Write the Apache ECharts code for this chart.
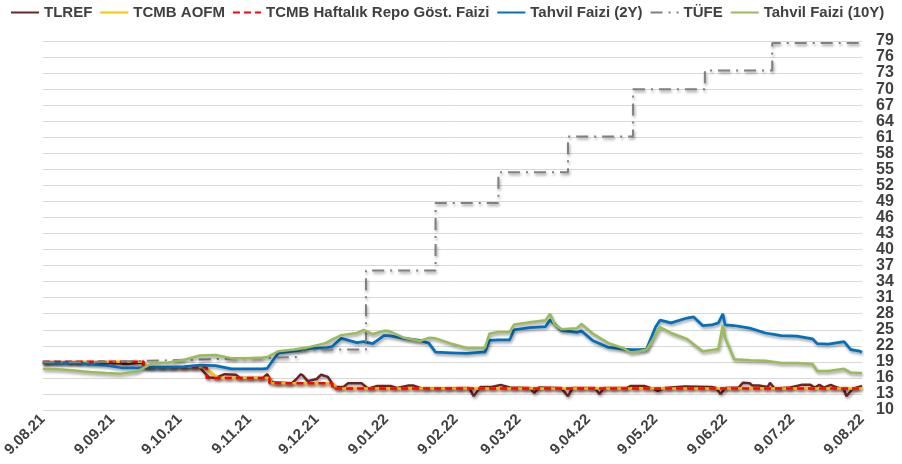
<!DOCTYPE html>
<html><head><meta charset="utf-8">
<script src="https://cdn.jsdelivr.net/npm/echarts@6/dist/echarts.min.js"></script>
<style>html,body{margin:0;padding:0;background:#fff}#c{width:902px;height:464px}</style>
</head><body><div id="c"></div>
<script>
// ---- data ----
const yieldDates = ['2021-08-09','2021-08-16','2021-08-23','2021-08-30','2021-09-06','2021-09-13','2021-09-20','2021-09-27','2021-10-04','2021-10-11','2021-10-18','2021-10-25','2021-11-01','2021-11-08','2021-11-15','2021-11-17','2021-11-22','2021-11-29','2021-12-06','2021-12-13','2021-12-16','2021-12-20','2021-12-27','2021-12-30','2022-01-03','2022-01-08','2022-01-10','2022-01-17','2022-01-24','2022-01-28','2022-01-31','2022-02-07','2022-02-14','2022-02-21','2022-02-22','2022-02-24','2022-02-28','2022-03-05','2022-03-07','2022-03-14','2022-03-21','2022-03-23','2022-03-25','2022-03-28','2022-04-04','2022-04-06','2022-04-11','2022-04-18','2022-04-25','2022-04-28','2022-05-02','2022-05-05','2022-05-09','2022-05-11','2022-05-16','2022-05-23','2022-05-26','2022-05-30','2022-06-03','2022-06-06','2022-06-08','2022-06-09','2022-06-13','2022-06-20','2022-06-27','2022-07-04','2022-07-11','2022-07-18','2022-07-20','2022-07-25','2022-08-01','2022-08-04','2022-08-08','2022-08-09'];
const tahvil2Y = [18.8,18.8,18.8,18.6,18.4,17.9,17.9,18.0,18.0,18.1,18.4,18.3,17.7,17.7,17.7,17.8,20.7,21.0,21.5,21.6,21.9,23.4,22.6,22.8,22.4,23.9,23.9,23.4,23.0,22.5,20.8,20.7,20.6,20.8,20.8,23.0,23.1,23.1,25.0,25.4,25.6,26.8,26.1,24.9,24.5,24.8,23.0,21.7,21.4,21.3,21.3,21.4,25.5,26.8,26.3,27.2,27.4,25.8,25.9,26.3,28.0,25.9,25.8,25.3,24.4,23.9,23.8,23.3,22.4,22.3,22.8,21.3,21.0,20.8];
const tahvil10Y = [17.7,17.6,17.4,17.1,16.9,16.8,17.2,18.8,18.9,19.4,20.2,20.3,19.7,19.7,19.8,19.9,21.0,21.3,21.8,22.5,23.2,24.0,24.4,25.0,24.2,24.8,24.8,23.5,22.9,23.5,23.4,22.4,21.6,21.6,21.6,24.3,24.6,24.6,26.0,26.4,26.8,28.0,26.0,25.1,25.3,26.1,24.3,22.5,21.5,20.7,21.0,21.3,24.0,25.5,24.4,23.3,22.3,21.0,21.2,21.4,25.9,23.5,19.5,19.3,19.2,18.8,18.8,18.6,17.3,17.3,17.7,17.0,16.9,16.9];

const tlrefDates = ['2021-08-09','2021-09-06','2021-09-16','2021-09-19','2021-09-22','2021-09-24','2021-10-18','2021-10-22','2021-10-25','2021-10-29','2021-11-03','2021-11-05','2021-11-15','2021-11-17','2021-11-19','2021-11-28','2021-11-30','2021-12-02','2021-12-03','2021-12-05','2021-12-09','2021-12-11','2021-12-14','2021-12-17','2021-12-21','2021-12-23','2021-12-29','2022-01-01','2022-01-05','2022-01-11','2022-01-14','2022-01-19','2022-01-21','2022-01-25','2022-02-15','2022-02-17','2022-02-20','2022-02-25','2022-03-01','2022-03-05','2022-03-14','2022-03-16','2022-03-18','2022-03-28','2022-03-31','2022-04-02','2022-04-12','2022-04-14','2022-04-16','2022-04-26','2022-04-28','2022-05-04','2022-05-07','2022-05-10','2022-05-13','2022-05-22','2022-06-03','2022-06-05','2022-06-07','2022-06-09','2022-06-15','2022-06-17','2022-06-20','2022-06-21','2022-06-24','2022-06-28','2022-06-29','2022-07-01','2022-07-08','2022-07-13','2022-07-17','2022-07-19','2022-07-21','2022-07-23','2022-07-26','2022-07-29','2022-08-01','2022-08-02','2022-08-05','2022-08-09'];
const tlref = [18.9,18.9,18.6,18.8,18.9,17.9,17.9,16.1,16.0,16.7,16.6,16.0,16.0,16.7,15.2,15.0,15.8,16.7,16.4,15.4,15.8,16.6,16.2,14.3,14.3,15.0,15.0,14.0,14.5,14.5,14.1,14.6,14.6,14.0,14.1,12.6,14.3,14.3,14.7,14.2,14.1,13.2,14.2,14.1,12.6,14.1,14.1,13.0,14.1,14.1,14.5,14.5,14.1,13.6,14.1,14.4,14.3,14.1,13.0,14.1,14.2,15.1,15.0,14.6,14.6,14.3,15.1,14.0,14.2,14.7,14.7,14.2,14.7,14.2,14.7,14.2,13.8,12.6,14.0,14.5];

const repoDates = ['2021-08-09','2021-09-23','2021-10-21','2021-11-18','2021-12-16','2022-08-09'];
const repo = [19,18,16,15,14,14];

const aofmDates = ['2021-08-09','2021-09-23','2021-09-24','2021-10-20','2021-10-26','2021-11-18','2021-11-19','2021-12-16','2021-12-18','2022-08-09'];
const aofm = [19,19,18,18,16,16,15,15,14,14];

const tufeDates = ['2021-08-09','2021-08-31','2021-09-30','2021-10-29','2021-11-30','2021-12-31','2022-01-31','2022-02-28','2022-03-31','2022-04-29','2022-05-31','2022-06-30','2022-08-09'];
const tufe = [18.95,19.25,19.58,19.89,21.31,36.08,48.69,54.44,61.14,69.97,73.50,78.62,78.62];

const xTickDates = ['2021-08-09','2021-09-09','2021-10-09','2021-11-09','2021-12-09','2022-01-09','2022-02-09','2022-03-09','2022-04-09','2022-05-09','2022-06-09','2022-07-09','2022-08-09'];
const xTickLabels = ['9.08.21','9.09.21','9.10.21','9.11.21','9.12.21','9.01.22','9.02.22','9.03.22','9.04.22','9.05.22','9.06.22','9.07.22','9.08.22'];
const yMin = 10, yMax = 79, yStep = 3;

// ---- helpers ----
function ts(s){ const p = s.split('-').map(Number); return Date.UTC(p[0], p[1]-1, p[2]); }
function pairs(d, v){ return d.map((x,i)=>[ts(x), v[i]]); }
const tickTs = xTickDates.map(ts);

const FONT = '"Liberation Sans", Arial, sans-serif';
const shadow = {shadowColor:'rgba(0,0,0,0.4)', shadowBlur:3, shadowOffsetX:1, shadowOffsetY:2};

function mk(name, data, color, width, type, step){
  return {
    name, type:'line', data, step: step || false, symbol:'none', showSymbol:false,
    lineStyle: Object.assign({color, width, type: type || 'solid'}, shadow),
    itemStyle:{color}, emphasis:{disabled:true}, silent:true
  };
}

const chart = echarts.init(document.getElementById('c'), null, {renderer:'canvas'});
chart.setOption({
  animation:false,
  backgroundColor:'#ffffff',
  textStyle:{fontFamily:FONT},
  legend:{
    left:10, top:5, padding:0, itemWidth:28, itemHeight:14, itemGap:7,
    itemStyle:{color:'rgba(0,0,0,0)', borderWidth:0, opacity:0},
    textStyle:{fontFamily:FONT, fontSize:15, fontWeight:'bold', color:'#404040'},
    data:['TLREF','TCMB AOFM','TCMB Haftalık Repo Göst. Faizi','Tahvil Faizi (2Y)','TÜFE','Tahvil Faizi (10Y)']
  },
  grid:{left:37, right:40, top:41, bottom:54, containLabel:false},
  xAxis:{
    type:'value', min:ts('2021-08-09'), max:ts('2022-08-09'),
    axisLine:{show:false}, axisTick:{show:false}, splitLine:{show:false},
    axisLabel:{
      customValues: tickTs, rotate:45, margin:7,
      fontFamily:FONT, fontSize:15, fontWeight:'bold', color:'#404040',
      formatter:function(v){ const i = tickTs.indexOf(v); return i>=0 ? xTickLabels[i] : ''; }
    }
  },
  yAxis:{
    type:'value', position:'right', min:yMin, max:yMax, interval:yStep,
    axisLine:{show:false}, axisTick:{show:false},
    splitLine:{lineStyle:{color:'#D9D9D9', width:1}},
    axisLabel:{margin:14, fontFamily:FONT, fontSize:16, fontWeight:'bold', color:'#404040'}
  },
  series:[
    mk('TLREF', pairs(tlrefDates, tlref), '#6B2424', 2.5),
    mk('TCMB AOFM', pairs(aofmDates, aofm), '#FFC000', 2.5),
    mk('TCMB Haftalık Repo Göst. Faizi', pairs(repoDates, repo), '#FF0000', 2.5, [7,4], 'end'),
    mk('Tahvil Faizi (2Y)', pairs(yieldDates, tahvil2Y), '#0070C0', 2.75),
    mk('TÜFE', pairs(tufeDates, tufe), '#808080', 2, [12,6,2,6], 'end'),
    mk('Tahvil Faizi (10Y)', pairs(yieldDates, tahvil10Y), '#9BBB59', 2.5)
  ]
});
</script>
</body></html>
